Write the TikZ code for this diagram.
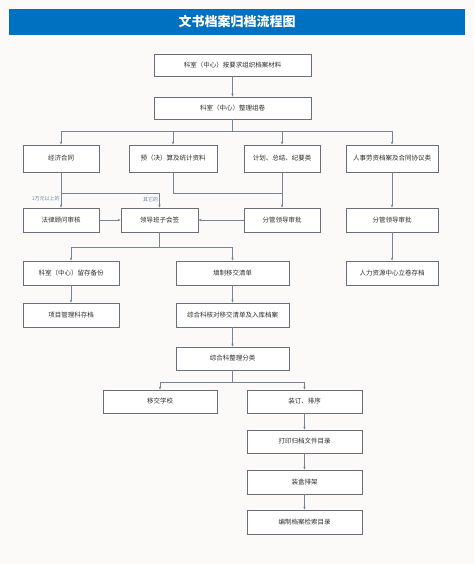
\documentclass[tikz,border=0pt]{standalone}
\usepackage{fontspec}
\newfontfamily\cjk{Noto Sans CJK SC}
\usetikzlibrary{arrows.meta}
\tikzset{
  step-box/.style={
    draw=boxline,
    line width=0.9pt,
    fill=white,
    minimum height=24pt,
    inner sep=0pt,
    text=textgray,
    font=\cjk\fontsize{6.5}{8}\selectfont
  },
  link/.style={draw=linkgray, line width=0.7pt},
  link-arrow/.style={link, -{Stealth[length=3pt,width=2.4pt]}},
  note-label/.style={text=notecolor, inner sep=1pt, font=\cjk\fontsize{5}{6}\selectfont},
  title-bar/.style={fill=titleblue, text=white, font=\cjk\bfseries\fontsize{13}{15}\selectfont}
}
\definecolor{titleblue}{RGB}{0,112,192}
\definecolor{boxline}{RGB}{105,110,120}
\definecolor{linkgray}{RGB}{120,132,150}
\definecolor{textgray}{RGB}{45,45,45}
\definecolor{notecolor}{RGB}{105,135,170}
\definecolor{paper}{RGB}{251,250,249}
\begin{document}
\begin{tikzpicture}[x=1pt, y=-1pt]
  % Page and title
  \fill[paper] (0,0) rectangle (474,564);
  \useasboundingbox (0,0) rectangle (474,564);
  \fill[titleblue] (9,9) rectangle (465,35);
  \node[title-bar] (title) at (237,22) {文书档案归档流程图};

  % Collect and sort
  \node[step-box, minimum width=157pt, minimum height=22pt] (collect) at (232.5,65) {科室（中心）按要求组织档案材料};
  \node[step-box, minimum width=157pt, minimum height=22pt] (sort) at (232.5,108) {科室（中心）整理组卷};

  % Kinds of documents
  \node[step-box, minimum width=76pt, minimum height=27pt] (econ) at (61,158.5) {经济合同};
  \node[step-box, minimum width=88pt, minimum height=27pt] (budget) at (173,158.5) {预（决）算及统计资料};
  \node[step-box, minimum width=76pt, minimum height=27pt] (plan) at (282,158.5) {计划、总结、纪要类};
  \node[step-box, minimum width=92pt, minimum height=27pt] (staff) at (392,158.5) {人事劳资档案及合同协议类};

  % Review
  \node[step-box, minimum width=76pt] (legal) at (61,220) {法律顾问审核};
  \node[step-box, minimum width=77pt] (countersign) at (159.5,220) {领导班子会签};
  \node[step-box, minimum width=76pt] (approve-a) at (282,220) {分管领导审批};
  \node[step-box, minimum width=92pt] (approve-b) at (392,220) {分管领导审批};

  % Filing
  \node[step-box, minimum width=96pt] (backup) at (71,273) {科室（中心）留存备份};
  \node[step-box, minimum width=113pt] (handover) at (232.5,273) {填制移交清单};
  \node[step-box, minimum width=92pt] (hr-file) at (392,273) {人力资源中心立卷存档};
  \node[step-box, minimum width=96pt] (project) at (71,315) {项目管理科存档};
  \node[step-box, minimum width=113pt] (check) at (232.5,315) {综合科核对移交清单及入库档案};
  \node[step-box, minimum width=113pt, minimum height=23pt] (classify) at (232.5,358.5) {综合科整理分类};

  % Archive
  \node[step-box, minimum width=114pt, minimum height=23pt] (school) at (160,401.5) {移交学校};
  \node[step-box, minimum width=115pt, minimum height=23pt] (bind) at (304.5,401.5) {装订、排序};
  \node[step-box, minimum width=115pt, minimum height=23pt] (print) at (304.5,441.5) {打印归档文件目录};
  \node[step-box, minimum width=115pt] (shelve) at (304.5,482) {装盒排架};
  \node[step-box, minimum width=115pt] (index) at (304.5,522) {编制档案检索目录};

  % Split points
  \coordinate (split-kind) at (232.5,131);
  \coordinate (split-econ) at (61,193);
  \coordinate (join-approve) at (282,193);
  \coordinate (split-sign) at (159.5,247);
  \coordinate (split-class) at (232.5,382);

  \draw[link-arrow] (collect) -- (sort);
  \draw[link] (sort) -- (split-kind);
  \draw[link-arrow] (split-kind) -| (econ);
  \draw[link-arrow] (split-kind) -| (budget);
  \draw[link-arrow] (split-kind) -| (plan);
  \draw[link-arrow] (split-kind) -| (staff);

  \draw[link-arrow] (econ) -- node[note-label, pos=0.75, anchor=east] (note-big) {1万元以上的} (legal);
  \draw[link-arrow] (split-econ) -| node[note-label, pos=0.72, anchor=east] (note-other) {其它的} (countersign);
  \draw[link] (budget) |- (join-approve);
  \draw[link-arrow] (plan) -- (approve-a);
  \draw[link-arrow] (legal) -- (countersign);
  \draw[link-arrow] (approve-a) -- (countersign);
  \draw[link-arrow] (staff) -- (approve-b);
  \draw[link-arrow] (approve-b) -- (hr-file);

  \draw[link] (countersign) -- (split-sign);
  \draw[link-arrow] (split-sign) -| (backup);
  \draw[link-arrow] (split-sign) -| (handover);
  \draw[link-arrow] (backup) -- (project);
  \draw[link-arrow] (handover) -- (check);
  \draw[link-arrow] (check) -- (classify);

  \draw[link] (classify) -- (split-class);
  \draw[link-arrow] (split-class) -| (school);
  \draw[link-arrow] (split-class) -| (bind);
  \draw[link-arrow] (bind) -- (print);
  \draw[link-arrow] (print) -- (shelve);
  \draw[link-arrow] (shelve) -- (index);
\end{tikzpicture}
\end{document}
